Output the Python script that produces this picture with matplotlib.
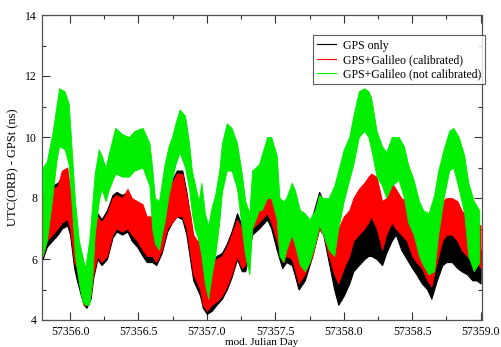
import numpy as np
import matplotlib
matplotlib.use("Agg")
import matplotlib.pyplot as plt
from matplotlib.lines import Line2D
from matplotlib.ticker import MultipleLocator

OUT_PATH = "out.png"

# band (upper / lower edge) of each series, MJD - 57300
MJD_CAL = [55.80, 55.83, 55.87, 55.91, 55.94, 55.98, 56.00, 56.03, 56.05, 56.08,
           56.10, 56.12, 56.15, 56.17, 56.20, 56.23, 56.27, 56.31, 56.34, 56.38,
           56.42, 56.45, 56.49, 56.53, 56.56, 56.60, 56.63, 56.67, 56.71, 56.745,
           56.78, 56.82, 56.85, 56.88, 56.90, 56.93, 56.95, 56.97, 57.00, 57.035,
           57.07, 57.11, 57.145, 57.18, 57.22, 57.255, 57.28, 57.33, 57.38, 57.40,
           57.44, 57.47, 57.51, 57.55, 57.58, 57.62, 57.64, 57.67, 57.715, 57.77,
           57.82, 57.85, 57.89, 57.93, 57.96, 58.00, 58.04, 58.07, 58.11, 58.15,
           58.18, 58.20, 58.24, 58.28, 58.31, 58.35, 58.38, 58.42, 58.46, 58.50,
           58.53, 58.57, 58.61, 58.64, 58.68, 58.72, 58.75, 58.79, 58.83, 58.86,
           58.90, 58.94, 58.97, 59.00]

RED_HI = [8.0, 7.9, 8.3, 8.4, 8.9, 9.0, 8.3, 7.3, 6.8, 6.1,
          5.7, 5.6, 6.1, 7.2, 7.4, 7.2, 7.5, 8.0, 8.1, 8.0,
          8.3, 8.0, 7.9, 7.8, 7.4, 7.4, 7.2, 7.6, 8.3, 8.5,
          8.8, 8.8, 8.1, 7.4, 6.8, 6.6, 6.6, 6.1, 5.9, 5.9,
          6.0, 6.1, 6.4, 6.8, 7.3, 7.0, 6.7, 7.6, 7.9, 8.4,
          8.6, 8.4, 7.6, 7.1, 7.3, 7.1, 6.8, 6.3, 6.8, 7.2,
          8.1, 7.9, 7.2, 6.8, 7.0, 7.4, 7.6, 8.0, 8.3, 8.5,
          8.7, 8.8, 8.7, 7.9, 8.0, 8.5, 8.3, 8.0, 7.9, 7.3,
          7.0, 6.8, 6.6, 6.3, 7.2, 7.9, 8.0, 8.0, 7.9, 7.6,
          7.4, 7.0, 7.2, 7.1]
RED_LO = [6.1, 6.6, 6.8, 7.0, 7.2, 7.3, 7.0, 5.9, 5.7, 5.0,
          4.5, 4.5, 4.8, 5.5, 6.1, 5.9, 6.1, 6.8, 7.0, 6.9,
          7.0, 6.8, 6.6, 6.3, 6.1, 6.1, 5.9, 6.3, 7.0, 7.2,
          7.4, 7.4, 7.0, 6.1, 5.5, 5.2, 5.0, 4.5, 4.3, 4.5,
          4.6, 4.8, 5.1, 5.5, 6.1, 5.7, 5.8, 7.0, 7.2, 7.3,
          7.5, 7.2, 6.6, 5.9, 6.1, 6.0, 5.7, 5.2, 5.5, 6.1,
          7.0, 6.8, 6.1, 5.5, 5.2, 5.7, 6.1, 6.6, 6.8, 7.0,
          7.2, 7.4, 7.0, 6.3, 6.8, 7.2, 7.0, 6.8, 6.6, 6.1,
          5.9, 5.7, 5.3, 5.1, 5.9, 6.6, 6.8, 6.8, 6.6, 6.3,
          6.1, 5.9, 5.9, 5.7]

BLK_HI = [8.1, 8.0, 8.4, 8.5, 8.7, 8.8, 8.2, 7.2, 6.6, 6.0,
          5.6, 5.5, 6.0, 7.0, 7.5, 7.3, 7.6, 8.1, 8.2, 8.1,
          8.2, 8.0, 7.8, 7.6, 7.3, 7.3, 7.1, 7.5, 8.2, 8.6,
          8.9, 8.9, 8.2, 7.3, 6.7, 6.5, 6.5, 6.0, 5.8, 5.8,
          6.1, 6.2, 6.5, 6.9, 7.5, 7.1, 6.8, 7.6, 7.8, 8.2,
          8.4, 8.2, 7.5, 7.0, 7.1, 7.0, 6.7, 6.2, 6.7, 7.4,
          8.2, 7.9, 7.0, 6.3, 5.9, 6.2, 6.6, 6.9, 7.1, 7.3,
          7.4, 7.4, 7.2, 6.9, 7.2, 7.6, 7.7, 7.3, 7.0, 6.6,
          6.3, 6.1, 5.9, 5.6, 6.3, 6.7, 6.8, 6.8, 6.8, 6.6,
          6.5, 6.4, 6.5, 6.3]
BLK_LO = [6.0, 6.4, 6.6, 6.8, 7.0, 7.1, 6.8, 5.7, 5.3, 4.8,
          4.5, 4.4, 4.7, 5.4, 6.0, 5.8, 6.0, 6.7, 6.9, 6.8,
          6.9, 6.6, 6.4, 6.1, 5.9, 5.9, 5.8, 6.2, 6.9, 7.2,
          7.4, 7.3, 6.8, 5.9, 5.3, 5.0, 4.8, 4.4, 4.2, 4.3,
          4.5, 4.7, 5.0, 5.4, 6.0, 5.6, 5.6, 6.8, 7.0, 7.1,
          7.3, 7.0, 6.3, 5.7, 5.9, 5.8, 5.5, 5.0, 5.3, 6.1,
          7.0, 6.8, 5.9, 5.0, 4.5, 4.8, 5.2, 5.6, 5.8, 6.0,
          6.1, 6.1, 6.0, 5.8, 6.2, 6.6, 6.8, 6.3, 6.0, 5.7,
          5.5, 5.2, 5.0, 4.7, 5.3, 5.8, 5.9, 5.9, 5.7, 5.6,
          5.5, 5.3, 5.3, 5.2]

MJD_GRN = [55.80, 55.83, 55.87, 55.90, 55.92, 55.96, 55.99, 56.015, 56.036, 56.065,
           56.09, 56.11, 56.14, 56.16, 56.18, 56.21, 56.23, 56.26, 56.285, 56.33,
           56.38, 56.43, 56.47, 56.53, 56.58, 56.60, 56.62, 56.65, 56.67, 56.69,
           56.72, 56.745, 56.77, 56.80, 56.84, 56.87, 56.89, 56.91, 56.94, 56.96,
           56.985, 57.01, 57.035, 57.06, 57.09, 57.11, 57.145, 57.18, 57.22, 57.255,
           57.28, 57.31, 57.33, 57.38, 57.40, 57.44, 57.47, 57.51, 57.53, 57.56,
           57.58, 57.62, 57.64, 57.68, 57.715, 57.75, 57.79, 57.82, 57.85, 57.89,
           57.93, 57.96, 58.00, 58.04, 58.07, 58.11, 58.15, 58.18, 58.20, 58.24,
           58.28, 58.31, 58.35, 58.40, 58.44, 58.47, 58.51, 58.55, 58.58, 58.62,
           58.66, 58.69, 58.73, 58.77, 58.80, 58.84, 58.88, 58.91, 58.95, 58.99]
GRN_HI = [9.0, 9.2, 10.1, 11.0, 11.6, 11.5, 11.1, 9.4, 7.9, 6.6,
          6.1, 5.7, 6.6, 7.7, 8.8, 9.6, 9.4, 9.0, 9.5, 10.3,
          10.1, 10.0, 10.2, 10.3, 9.8, 9.0, 8.0, 7.9, 8.5, 9.1,
          9.7, 10.0, 10.45, 10.9, 10.7, 9.8, 8.9, 8.5, 7.9, 8.5,
          7.5, 7.1, 7.7, 8.1, 8.9, 9.8, 10.45, 10.3, 9.8, 8.8,
          7.9, 7.5, 8.9, 9.1, 9.4, 10.0, 10.0, 9.4, 8.0, 7.9,
          8.0, 8.5, 8.3, 7.6, 7.5, 7.3, 7.6, 8.1, 8.0, 8.0,
          8.4, 8.9, 9.6, 10.0, 10.7, 11.5, 11.6, 11.5, 11.3, 10.2,
          9.7, 9.5, 10.0, 10.0, 9.7, 9.1, 8.6, 7.9, 7.6, 7.5,
          8.1, 8.9, 9.6, 10.2, 10.3, 10.0, 9.4, 8.5, 7.9, 7.6]
GRN_LO = [6.1, 6.6, 8.0, 9.2, 9.7, 9.6, 9.1, 7.6, 6.1, 5.2,
          4.6, 4.5, 4.5, 5.2, 6.8, 7.9, 8.3, 7.9, 8.3, 8.8,
          8.7, 8.7, 8.9, 9.0, 8.4, 7.0, 6.5, 6.3, 6.8, 7.2,
          8.1, 8.6, 9.1, 9.5, 9.0, 8.3, 7.5, 7.0, 6.6, 6.1,
          5.2, 4.7, 5.5, 6.1, 7.2, 8.2, 8.9, 8.9, 8.3, 7.0,
          6.1, 5.5, 7.0, 7.6, 7.6, 8.0, 8.0, 7.3, 6.1, 5.9,
          6.3, 6.8, 6.5, 5.8, 5.6, 5.9, 6.5, 7.1, 6.8, 6.3,
          6.1, 7.0, 7.9, 8.6, 9.1, 10.0, 10.2, 10.0, 9.6, 8.7,
          8.4, 8.0, 8.4, 8.6, 8.0, 7.2, 6.8, 6.1, 5.8, 5.5,
          5.6, 6.8, 8.0, 8.9, 9.0, 8.3, 7.5, 6.1, 5.6, 5.9]

LABELS = ["GPS only", "GPS+Galileo (calibrated)", "GPS+Galileo (not calibrated)"]
COLORS = ["black", "#ff0000", "#00ee00"]


def plot_bands(ax):
    x_cal = 57300 + np.array(MJD_CAL)
    x_grn = 57300 + np.array(MJD_GRN)

    ax.fill_between(x_cal, BLK_LO, BLK_HI, color=COLORS[0], lw=0.8, zorder=2)
    ax.fill_between(x_cal, RED_LO, RED_HI, color=COLORS[1], lw=0.6, zorder=3)
    ax.fill_between(x_grn, GRN_LO, GRN_HI, color=COLORS[2], lw=0.6, zorder=4)


def style_axes(ax):
    ax.set_xlim(57355.795, 57359.01)
    ax.set_ylim(4, 14)

    ax.xaxis.set_major_locator(MultipleLocator(0.5))
    ax.xaxis.set_minor_locator(MultipleLocator(0.25))
    ax.yaxis.set_major_locator(MultipleLocator(2))
    ax.yaxis.set_minor_locator(MultipleLocator(1))
    ax.xaxis.set_major_formatter(plt.FuncFormatter(lambda v, p: f"{v:.1f}"))

    ax.tick_params(which="both", direction="in", top=True, right=True,
                   labelsize=8.5, colors="#333333", labelcolor="black")
    ax.tick_params(which="major", length=6, width=0.8)
    ax.tick_params(which="minor", length=3, width=0.8)
    ax.tick_params(axis="x", pad=4)

    for s in ax.spines.values():
        s.set_color("#555555")
        s.set_linewidth(0.9)

    ax.set_xlabel("mod. Julian Day", fontsize=8, labelpad=0)
    ax.set_ylabel("UTC(ORB) - GPSt (ns)", fontsize=9, labelpad=4)

    handles = [Line2D([], [], color=c, lw=0.8) for c in COLORS]
    leg = ax.legend(handles, LABELS, loc="upper right",
                    bbox_to_anchor=(1.007, 0.933), fontsize=8.5,
                    frameon=True, fancybox=False, handlelength=1.6,
                    handletextpad=0.6, borderpad=0.35, labelspacing=0.2,
                    borderaxespad=0)
    leg.get_frame().set_edgecolor("#333333")
    leg.get_frame().set_linewidth(0.8)
    leg.set_zorder(10)


def main():
    plt.rcParams["font.family"] = ["Liberation Serif", "DejaVu Serif"]

    fig = plt.figure(figsize=(5.02, 3.47), dpi=100)
    ax = fig.add_axes([42 / 502, 1 - 320 / 347, 440 / 502, 305 / 347])

    plot_bands(ax)
    style_axes(ax)

    fig.savefig(OUT_PATH, dpi=100)
    plt.close(fig)


if __name__ == "__main__":
    main()
